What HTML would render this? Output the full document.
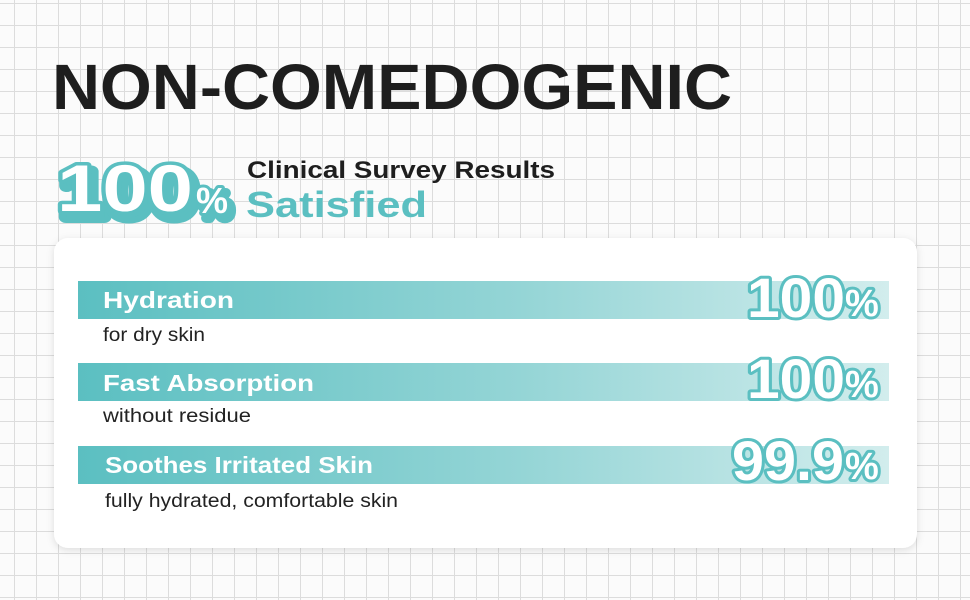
<!DOCTYPE html>
<html><head><meta charset="utf-8"><style>
html,body{margin:0;padding:0;width:970px;height:600px;overflow:hidden;background:#fafafa}
</style></head><body>
<svg width="970" height="600" viewBox="0 0 970 600" xmlns="http://www.w3.org/2000/svg" font-family="Liberation Sans, sans-serif">
<defs>
<pattern id="g" x="14" y="3" width="22" height="22" patternUnits="userSpaceOnUse">
<path d="M0 0.5H22M0.5 0V22" stroke="#dcdcdc" stroke-width="1" fill="none"/>
</pattern>
<linearGradient id="b" x1="0" x2="1">
<stop offset="0" stop-color="#5bbfc1"/><stop offset="0.55" stop-color="#95d5d6"/><stop offset="1" stop-color="#d2eded"/>
</linearGradient>
<filter id="s" x="-5%" y="-5%" width="110%" height="115%"><feDropShadow dx="0" dy="2" stdDeviation="4" flood-color="#000" flood-opacity="0.12"/></filter>
</defs>
<rect width="970" height="600" fill="#fbfbfb"/>
<rect width="970" height="600" fill="url(#g)"/>
<text x="52" y="109" font-size="64" font-weight="bold" fill="#1e1e1e" textLength="680" lengthAdjust="spacingAndGlyphs">NON-COMEDOGENIC</text>
<g font-weight="bold" stroke-linejoin="round" paint-order="stroke">
<text x="61" y="217" font-size="66" fill="#5bbfc1" stroke="#5bbfc1" stroke-width="12" textLength="136" lengthAdjust="spacingAndGlyphs">100</text>
<text x="200" y="218" font-size="36" fill="#5bbfc1" stroke="#5bbfc1" stroke-width="10">%</text>
<text x="57" y="211" font-size="66" fill="#fff" stroke="#5bbfc1" stroke-width="7" textLength="136" lengthAdjust="spacingAndGlyphs">100</text>
<text x="196" y="213" font-size="36" fill="#fff" stroke="#5bbfc1" stroke-width="6">%</text>
</g>
<text x="247" y="178" font-size="24" font-weight="bold" fill="#1e1e1e" textLength="308" lengthAdjust="spacingAndGlyphs">Clinical Survey Results</text>
<text x="246" y="217" font-size="36" font-weight="bold" fill="#5bbfc1" textLength="181" lengthAdjust="spacingAndGlyphs">Satisfied</text>
<rect x="54" y="238" width="863" height="310" rx="14" fill="#fff" filter="url(#s)"/>
<rect x="78" y="281" width="811" height="38" fill="url(#b)"/>
<rect x="78" y="363" width="811" height="38" fill="url(#b)"/>
<rect x="78" y="446" width="811" height="38" fill="url(#b)"/>
<g font-size="23" font-weight="bold" fill="#fff">
<text x="103" y="308" textLength="131" lengthAdjust="spacingAndGlyphs">Hydration</text>
<text x="103" y="391" textLength="211" lengthAdjust="spacingAndGlyphs">Fast Absorption</text>
<text x="105" y="473" textLength="268" lengthAdjust="spacingAndGlyphs">Soothes Irritated Skin</text>
</g>
<g font-size="19" fill="#222">
<text x="103" y="341" textLength="102" lengthAdjust="spacingAndGlyphs">for dry skin</text>
<text x="103" y="422" textLength="148" lengthAdjust="spacingAndGlyphs">without residue</text>
<text x="105" y="507" textLength="293" lengthAdjust="spacingAndGlyphs">fully hydrated, comfortable skin</text>
</g>
<g font-weight="bold" fill="#fff" stroke="#5bbfc1" stroke-width="6" stroke-linejoin="round" paint-order="stroke">
<text x="747" y="317" font-size="56" textLength="98" lengthAdjust="spacingAndGlyphs">100</text>
<text x="845" y="316" font-size="38">%</text>
<text x="747" y="398" font-size="56" textLength="98" lengthAdjust="spacingAndGlyphs">100</text>
<text x="845" y="397" font-size="38">%</text>
<text x="732" y="480" font-size="56" textLength="112" lengthAdjust="spacingAndGlyphs">99.9</text>
<text x="845" y="479" font-size="38">%</text>
</g>
</svg>
</body></html>
